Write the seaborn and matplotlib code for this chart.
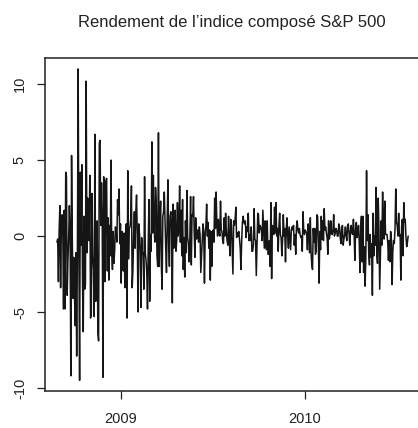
import numpy as np
import pandas as pd
import matplotlib
matplotlib.use("Agg")
import matplotlib.pyplot as plt
import seaborn as sns

# Daily log-returns (%) of the S&P 500
ret_2008_09 = [-0.4, -0.2, -3.0, 0.4, 2.0, -3.4, 0.6, 1.4, 0.2, -4.8, 1.7, -4.8, 4.2, 3.9, -3.9, -1.6, -0.2, 2.0, 0.3, -9.2, 5.3]
ret_2008_10 = [-0.3, -4.1, -1.4, -3.9, -5.9, -1.1, -7.9, -1.2, 11.0, -0.5, -9.5, 4.2, -0.6, 4.7, -3.1, -6.3, 1.3, -3.5, -3.2, 10.2, -1.1, 2.5, 1.5]
ret_2008_11 = [-0.3, 4.0, -5.4, -5.1, 2.8, -1.3, -2.2, -5.3, 6.7, -4.3, -2.7, 1.0, -6.3, -6.9, 6.1, 6.3, 0.7, 3.5, 1.0]
ret_2008_12 = [-9.3, 3.9, 2.6, -3.0, 3.6, 3.8, -2.3, 1.2, -2.9, 0.7, -1.3, 5.0, -1.0, -2.2, 0.3, -1.8, -1.0, 0.6, 0.5, -0.4, 2.4, 1.4]
ret_2009_01 = [3.1, -0.5, 0.8, -3.1, 0.3, -2.2, -2.3, 0.2, -3.4, 0.1, 0.8, -5.4, 4.3, -1.5, 0.5, 0.6, 1.1, 3.3, -3.4, -2.3]
ret_2009_02 = [0.0, 1.6, -0.8, 1.6, 2.7, 0.1, -5.0, 0.8, 0.2, -1.0, -4.7, -0.1, -1.2, -1.1, -3.5, 3.9, -1.1, -1.6, -2.4]
ret_2009_03 = [-4.8, -0.6, 2.4, -4.3, 0.1, -1.0, 6.2, 0.2, 4.0, 0.7, -0.4, 3.2, 2.1, -1.3, -2.0, 6.8, -2.0, 1.0, 2.3, -2.0, -3.5, 1.3]
ret_2009_04 = [1.6, 2.9, 1.0, -0.8, -2.4, 1.2, 3.7, -0.5, -2.0, 1.3, 1.6, 0.5, -4.4, 2.1, -0.8, 1.0, 1.7, -1.0, -0.3, 2.2, 0.0]
ret_2009_05 = [0.5, 3.3, -0.4, 1.7, -1.3, 2.4, -2.2, -0.1, -2.7, 1.0, -1.1, 3.0, -0.1, -0.5, -1.7, -0.2, 2.6, -1.9, 1.4, 1.3]
ret_2009_06 = [2.6, 0.2, -1.4, 1.2, -0.2, -0.1, 0.4, -0.4, 0.6, 0.1, -2.4, -1.3, -0.1, 0.8, 0.3, -3.1, 0.1, 0.7, 2.1, 0.0, 0.9, -0.8]
ret_2009_07 = [0.4, -2.9, 0.3, -2.0, -0.2, 0.4, -0.4, 2.5, 0.5, 2.9, 0.8, 0.0, 1.1, 0.4, 0.0, 2.3, 0.4, 0.3, -0.3, -0.5, 1.2, 0.0]
ret_2009_08 = [1.5, 0.3, -0.3, -0.6, 1.3, -0.3, -1.3, 1.1, 0.7, -0.9, -2.5, 1.0, 0.7, 1.1, 1.9, -0.1, 0.2, 0.0, 0.3, -0.2, -0.8]
ret_2009_09 = [-2.2, -0.3, 0.9, 1.3, 0.9, 0.8, 1.0, -0.1, 0.6, 0.3, 1.5, -0.3, 0.1, -0.3, 0.6, -1.0, -1.0, -0.6, 1.8, -0.2, -0.3]
ret_2009_10 = [-2.6, -0.5, 1.5, 1.4, 0.2, 0.7, 0.6, 0.4, -0.3, 1.7, 0.4, -0.8, 1.0, -0.6, -0.9, 1.0, -1.2, -1.2, -0.3, -2.0, 2.2, -2.8]
ret_2009_11 = [0.7, 0.2, 0.1, 1.9, 0.2, 2.2, 0.0, 0.5, -1.0, 0.6, 1.5, 0.1, -0.1, -1.3, -0.3, 1.4, 0.0, 0.5, -1.7, 0.4]
ret_2009_12 = [1.2, 0.0, -0.8, 0.6, -0.2, -0.9, 0.4, 0.6, 0.4, 0.7, -0.6, 0.1, -1.2, 0.6, 1.0, 0.4, 0.2, 0.5, 0.1, -0.1, 0.0, -1.0]
ret_2010_01 = [1.6, 0.3, 0.1, 0.4, 0.3, 0.2, -0.9, 0.8, 0.2, -1.1, 1.2, -1.1, -1.9, -2.2, 0.5, -0.4, 0.5, -1.2, -1.0]
ret_2010_02 = [1.4, 1.3, -0.5, -3.1, 0.3, -0.9, 1.3, -0.2, 1.0, -0.3, 1.8, 0.4, 0.6, 0.2, -0.1, -1.2, 1.0, -0.2, 0.1]
ret_2010_03 = [1.0, 0.2, 0.1, 0.4, 1.4, 0.0, 0.2, 0.5, 0.4, 0.0, 0.0, 0.8, 0.6, -0.1, -0.5, 0.5, 0.7, -0.6, -0.2, 0.1, 0.6, 0.0, -0.3]
ret_2010_04 = [0.7, 0.8, 0.2, -0.6, 0.3, 0.7, 0.2, 0.1, 1.1, 0.1, -1.6, 0.4, 0.9, -0.1, 0.2, 0.7, -0.4, -2.4, 0.6, 1.3, -1.7]
ret_2010_05 = [1.3, -2.4, -0.7, -3.3, -1.5, 4.3, -0.3, 1.4, -1.2, -1.9, 0.1, -1.4, -0.5, -3.9, 1.5, -1.3, 0.0, -0.6, 3.2, -1.2]
ret_2010_06 = [-1.8, 2.5, 0.4, -3.5, -1.4, 1.0, -0.6, 2.9, 0.4, -0.2, 2.3, 0.1, 0.1, 0.1, -0.4, -1.6, -0.3, -1.7, 0.3, -0.2, -3.2, -1.0]
ret_2010_07 = [-0.3, -0.5, 0.5, 3.1, 0.9, 0.7, 0.0, 1.5, 0.0, 0.1, -2.9, 0.6, 1.1, -1.3, 2.2, 0.9, 1.1, -0.1, -0.7, -0.4, 0.0]

x_tick_values = [2009, 2010]
x_tick_labels = ["2009", "2010"]
y_tick_values = [-10, -5, 0, 5, 10]
title_text = "Rendement de l\u2019indice compos\u00e9 S&P 500"

# time series settings (like R's ts(start, frequency))
ts_start = 2008.652
ts_freq = 252

returns = (ret_2008_09 + ret_2008_10 + ret_2008_11 + ret_2008_12 +
           ret_2009_01 + ret_2009_02 + ret_2009_03 + ret_2009_04 + ret_2009_05 + ret_2009_06 +
           ret_2009_07 + ret_2009_08 + ret_2009_09 + ret_2009_10 + ret_2009_11 + ret_2009_12 +
           ret_2010_01 + ret_2010_02 + ret_2010_03 + ret_2010_04 + ret_2010_05 + ret_2010_06 +
           ret_2010_07)
df = pd.DataFrame({"t": ts_start + np.arange(len(returns)) / ts_freq, "r": returns})

sns.set_style("white")
plt.rcParams["font.family"] = ["Liberation Sans", "DejaVu Sans"]

fig = plt.figure(figsize=(4.18, 4.28), dpi=100)
fig.patch.set_facecolor("white")
W, H = 418, 428
left, right, top, bottom = 45, 425, 58, 391
ax = fig.add_axes([left / W, (H - bottom) / H, (right - left) / W, (bottom - top) / H])

sns.lineplot(data=df, x="t", y="r", ax=ax, color="#151515", linewidth=1.1,
             estimator=None, sort=False)

ax.set_xlim(2008.587, 2008.587 + (right - left) / 184.0)
ax.set_ylim(-10.2, 11.72)
ax.set_xticks(x_tick_values)
ax.set_xticklabels(x_tick_labels)
ax.set_yticks(y_tick_values)
ax.set_yticklabels([str(v) for v in y_tick_values], rotation=90, va="center")
ax.set_xlabel("")
ax.set_ylabel("")
for s in ax.spines.values():
    s.set_color("#222222")
    s.set_linewidth(1.1)
ax.tick_params(axis="x", direction="out", length=6, width=0.9, colors="#222222",
               labelsize=10.5, pad=9, labelcolor="#222222")
ax.tick_params(axis="y", direction="out", length=6, width=0.9, colors="#222222",
               labelsize=10.5, pad=7, labelcolor="#222222")
ax.tick_params(bottom=True, left=True)

fig.text(232 / W, 1 - 22 / H, title_text, ha="center", va="center",
         fontsize=12, color="#222222")

fig.savefig("out.png", dpi=100, facecolor="white")
